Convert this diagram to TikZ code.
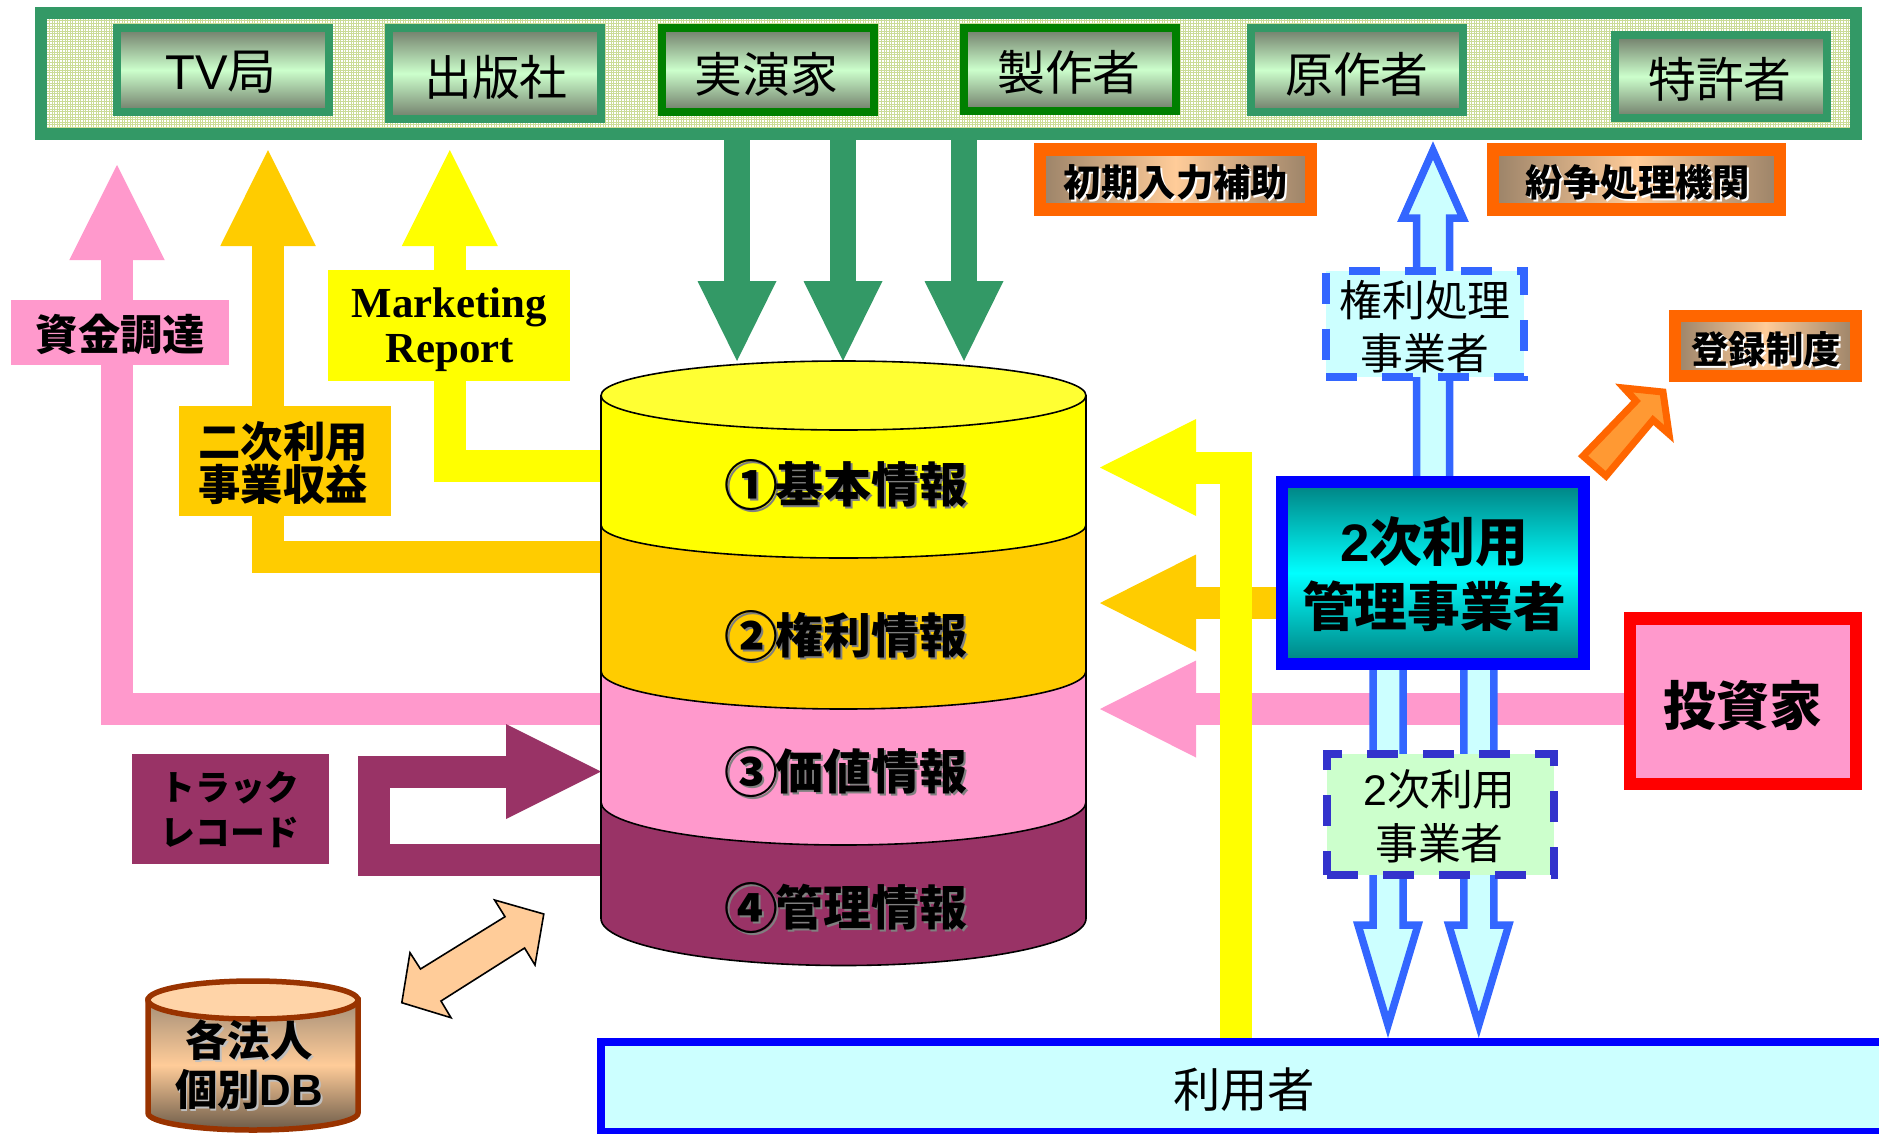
\documentclass[tikz,border=0pt]{standalone}
\usepackage{fontspec}
\setmainfont{Noto Sans CJK JP}
\newfontfamily\latfont{Liberation Sans}
\newfontfamily\serfont{Liberation Serif}
\usetikzlibrary{arrows.meta,calc,shadings}
\definecolor{cgreen}{HTML}{339966}
\definecolor{cdgreen}{HTML}{008000}
\definecolor{cpink}{HTML}{FF99CC}
\definecolor{cgold}{HTML}{FFCC00}
\definecolor{cyel}{HTML}{FFFF00}
\definecolor{cplum}{HTML}{993366}
\definecolor{cmint}{HTML}{CCFFCC}
\definecolor{cice}{HTML}{CCFFFF}
\definecolor{cblue}{HTML}{3366FF}
\definecolor{cindigo}{HTML}{3333CC}
\definecolor{cpure}{HTML}{0000FF}
\definecolor{corg}{HTML}{FF6600}
\definecolor{cdiag}{HTML}{FF9933}
\definecolor{cpeach}{HTML}{FFCC99}
\definecolor{cbrown}{HTML}{993300}
\definecolor{cgrid}{HTML}{CBDC96}
\definecolor{cgrad}{HTML}{6F7A68}
\definecolor{ctan}{HTML}{9A8268}
\newcommand\FS[2]{\fontsize{#1}{#2}\selectfont\lineskiplimit=-1000pt\relax}
\newcommand\ShT[2]{\leavevmode\rlap{\raisebox{-2pt}{\hspace{2pt}\textcolor{#1}{#2}}}#2}
\newcommand\Cn[1]{\makebox[48pt]{\raisebox{-2.5pt}{\fontsize{54}{50}\selectfont #1}}}
\newcommand\HollowArrow[5]{%
 \draw[hollow] ($(#1)+(-#4,0)$) -- ($(#2)+(-#4,#3)$) -- ($(#2)+(-#5,#3)$) -- (#2)
   -- ($(#2)+(#5,#3)$) -- ($(#2)+(#4,#3)$) -- ($(#1)+(#4,0)$);}
\tikzset{
 base/.style={inner sep=0bp,outer sep=0bp},
 txt/.style={base,align=center,text=black},
 flat/.style={base,fill=#1},
 member/.style={base,draw=#1,line width=8bp,top color=cgrad,bottom color=cgrad,middle color=cmint},
 note/.style={base,draw=corg,line width=12.5bp,left color=ctan,right color=ctan,middle color=cpeach},
 dashbox/.style={base,draw=#1,line width=8bp,dash pattern=on 31bp off 25bp},
 flow/.style={line width=#1,line join=miter},
 hollow/.style={draw=cblue,fill=cice,line width=7.5bp,line join=miter,miter limit=30},
 layer/.style={draw=black,line width=1.6bp,fill=#1},
 head/.style 2 args={-{Triangle[length=#1bp,width=#2bp,line width=0bp]}},
}
\begin{document}
\begin{tikzpicture}[x=1bp,y=-1bp]
\useasboundingbox (0,0) rectangle (1879,1133);
\clip (0,0) rectangle (1879,1133);
% top frame
\node[base,draw=cgreen,line width=12bp,fill=white,minimum width=1815bp,minimum height=121bp] (frame) at (948.5,73.5) {};
\begin{scope}
\clip (47,19) rectangle (1850,128);
\draw[cgrid,line width=1bp,step=2.6bp] (47,19) grid (1850,128);
\end{scope}
\node[member=cgreen,minimum width=212bp,minimum height=84bp] (tv) at (223,70) {};
\node[member=cgreen,minimum width=212bp,minimum height=91bp] (pub) at (495,73.5) {};
\node[member=cdgreen,minimum width=212bp,minimum height=84bp] (perf) at (768,70) {};
\node[member=cdgreen,minimum width=212bp,minimum height=83bp] (prod) at (1070,69.5) {};
\node[member=cgreen,minimum width=212bp,minimum height=84bp] (orig) at (1357,70) {};
\node[member=cgreen,minimum width=212bp,minimum height=83bp] (pat) at (1720.5,76.5) {};
\node[txt,font=\FS{49}{52}] (tvT) at (221,72) {{\latfont TV}局};
\node[txt,font=\FS{48}{52}] (pubT) at (496,77) {出版社};
\node[txt,font=\FS{48}{52}] (perfT) at (766.5,74) {実演家};
\node[txt,font=\FS{48}{52}] (prodT) at (1069,72) {製作者};
\node[txt,font=\FS{48}{52}] (origT) at (1357,74) {原作者};
\node[txt,font=\FS{48}{52}] (patT) at (1720,79) {特許者};
% coordinates
\coordinate (gA) at (737,361);
\coordinate (gB) at (843,361);
\coordinate (gC) at (964,361);
\coordinate (cylY) at (601,466);
\coordinate (cylO) at (601,556.5);
\coordinate (cylP) at (601,709);
\coordinate (cylMa) at (601,771.5);
\coordinate (cylMb) at (601,860);
\coordinate (tipP) at (117,165);
\coordinate (tipO) at (268,150);
\coordinate (tipY) at (449.75,150);
\coordinate (rY) at (1100,467.5);
\coordinate (rO) at (1100,603);
\coordinate (rP) at (1100,709);
\coordinate (yelV) at (1236,1038);
\coordinate (dnA) at (1388,1025);
\coordinate (dnB) at (1478.75,1025);
\coordinate (upT) at (1433,150.5);
% manager, investor anchors
\node[base,minimum width=302bp,minimum height=182bp] (mgrA) at (1433,573) {};
\node[base,minimum width=226bp,minimum height=165.5bp] (invA) at (1743,701) {};
% green flows
\draw[flow=26bp,cgreen,head={80}{79}] (frame.south -| gA) -- (gA);
\draw[flow=26bp,cgreen,head={80}{79}] (frame.south -| gB) -- (gB);
\draw[flow=26bp,cgreen,head={80}{79}] (frame.south -| gC) -- (gC);
% left flows
\draw[flow=32bp,cpink,head={95}{95.5}] (cylP) -| (tipP);
\draw[flow=32bp,cgold,head={96}{95.5}] (cylO) -| (tipO);
\draw[flow=32bp,cyel,head={96}{96}] (cylY) -| (tipY);
\node[flat=cpink,minimum width=218bp,minimum height=65bp] (fund) at (120,332.5) {};
\node[txt,font=\bfseries\FS{42.5}{46}] (fundT) at (120.5,334) {資金調達};
\node[flat=cgold,minimum width=212bp,minimum height=110bp] (rev) at (284.5,461) {};
\node[txt,font=\bfseries\FS{42.5}{44}] (revT) at (283,463) {二次利用\\事業収益};
\node[flat=cyel,minimum width=242bp,minimum height=111bp] (mkt) at (449,325.5) {};
\node[txt,font=\serfont\bfseries\FS{43}{45}] (mktT) at (449.5,330) {Marketing\\Report};
% track record
\node[flat=cplum,minimum width=197bp,minimum height=110bp] (track) at (230.5,809) {};
\node[txt,font=\bfseries\FS{35}{45}] (trackT) at (230,809.5) {トラック\\レコード};
\draw[flow=32bp,cplum,head={95}{95}] (cylMb) -- (374,860) -- (374,771.5) -- (cylMa);
% right flows
\draw[flow=32bp,cpink,head={96}{97}] (invA.west |- rP) -- (rP);
\draw[flow=32bp,cgold,head={96}{97}] (mgrA.west |- rO) -- (rO);
\draw[flow=32bp,cyel,head={96}{97}] (yelV) |- (rY);
% user box
\node[base,draw=cpure,line width=8bp,fill=cice,minimum width=1400bp,minimum height=90bp,anchor=north west] (user) at (601,1042) {};
\node[txt,font=\FS{47.5}{50}] (userT) at (1244,1090) {利用者};
% hollow blue arrows
\HollowArrow{mgrA.north -| upT}{upT}{67.5}{16.5}{30}
\HollowArrow{mgrA.south -| dnA}{dnA}{-100}{15}{30}
\HollowArrow{mgrA.south -| dnB}{dnB}{-100}{15}{30}
% manager, investor
\node[base,draw=cpure,line width=12bp,top color=teal,bottom color=teal,middle color=cyan,minimum width=302bp,minimum height=182bp] (mgr) at (1433,573) {};
\node[txt,font=\bfseries\FS{53}{66}] (mgrT) at (1434,574) {{\latfont 2}次利用\\管理事業者};
\node[base,draw=red,line width=12.5bp,fill=cpink,minimum width=226bp,minimum height=165.5bp] (inv) at (1743,701) {};
\node[txt,font=\bfseries\FS{53}{57}] (invT) at (1743,706) {投資家};
% dashed boxes
\node[dashbox=cblue,fill=cice,minimum width=198bp,minimum height=106bp] (right) at (1425,323.5) {};
\node[txt,font=\FS{43}{53}] (rightT) at (1425,326.5) {権利処理\\事業者};
\node[dashbox=cindigo,fill=cmint,minimum width=227bp,minimum height=121bp] (biz) at (1440.5,814.5) {};
\node[txt,font=\FS{43}{54}] (bizT) at (1439.5,816) {{\latfont 2}次利用\\事業者};
% orange notes
\node[note,minimum width=271bp,minimum height=60bp] (init) at (1175.5,179.5) {};
\node[txt,font=\bfseries\FS{37.5}{40}] (initT) at (1176,183.5) {\ShT{white}{初期入力補助}};
\node[note,minimum width=287bp,minimum height=60bp] (disp) at (1636.5,179.5) {};
\node[txt,font=\bfseries\FS{37.5}{40}] (dispT) at (1638,183.5) {\ShT{white}{紛争処理機関}};
\node[note,minimum width=181bp,minimum height=60bp] (reg) at (1765.5,346) {};
\node[txt,font=\bfseries\FS{37.5}{40}] (regT) at (1766,350.5) {\ShT{white}{登録制度}};
% diagonal arrow
\draw[draw=corg,fill=cdiag,line width=7bp,line join=miter,miter limit=10]
  (1663,392) -- (1624,388) -- (1636,401) -- (1583,456) -- (1606,476) -- (1653,420) -- (1669,434) -- cycle;
% main cylinder
\path[layer=cplum] (601,802) -- (601,918.5) arc[start angle=180,end angle=0,x radius=242.5,y radius=47] -- (1086,802) -- cycle;
\path[layer=cpink] (601,671) -- (601,802) arc[start angle=180,end angle=0,x radius=242.5,y radius=43] -- (1086,671) -- cycle;
\path[layer=cgold] (601,525) -- (601,671) arc[start angle=180,end angle=0,x radius=242.5,y radius=38] -- (1086,525) -- cycle;
\path[layer=cyel] (601,396) -- (601,525) arc[start angle=180,end angle=0,x radius=242.5,y radius=33] -- (1086,396) -- cycle;
\path[layer={cyel!80!white}] (843.5,395.5) ellipse[x radius=242.5,y radius=34.5];
\node[txt,font=\bfseries\FS{48}{50}] (infoA) at (847.5,486) {\ShT{gray}{\Cn{①}基本情報}};
\node[txt,font=\bfseries\FS{48}{50}] (infoB) at (847.5,637) {\ShT{gray}{\Cn{②}権利情報}};
\node[txt,font=\bfseries\FS{48}{50}] (infoC) at (847.5,773) {\ShT{gray}{\Cn{③}価値情報}};
\node[txt,font=\bfseries\FS{48}{50}] (infoD) at (847.5,909) {\ShT{gray}{\Cn{④}管理情報}};
% double arrow
\draw[draw=black,fill=cpeach,line width=1.6bp,line join=miter]
  (494.6,900) -- (543.8,914) -- (535,965) -- (524.6,948) -- (441,1001) -- (451,1017.7)
  -- (401.8,1002.7) -- (410,952.7) -- (420.5,969) -- (505,916.7) -- cycle;
% small DB
\draw[draw=cbrown,line width=5.5bp,top color=ctan!90!white,bottom color=ctan!70!black,middle color=cpeach]
  (148,1000) -- (148,1113) arc[start angle=180,end angle=0,x radius=105,y radius=17] -- (358,1000) -- cycle;
\draw[draw=cbrown,line width=5.5bp,fill=cpeach!85!white] (253,1000) ellipse[x radius=105,y radius=19];
\node[txt,font=\bfseries\FS{42.5}{49}] (dbT) at (249,1066) {\ShT{lightgray}{各法人}\\\ShT{lightgray}{個別{\latfont\FS{44}{49}DB}}};
\end{tikzpicture}
\end{document}
